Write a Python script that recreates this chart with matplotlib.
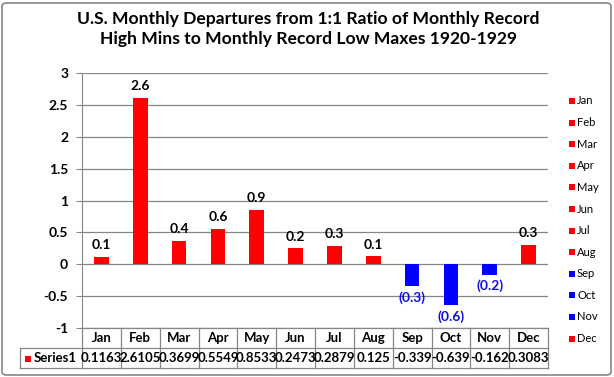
import matplotlib
matplotlib.use("Agg")
import matplotlib.pyplot as plt
from matplotlib.patches import Rectangle, FancyBboxPatch
from matplotlib.lines import Line2D

months = ["Jan", "Feb", "Mar", "Apr", "May", "Jun", "Jul", "Aug", "Sep", "Oct", "Nov", "Dec"]
values = [0.1163, 2.6105, 0.3699, 0.5549, 0.8533, 0.2473, 0.2879, 0.125, -0.339, -0.639, -0.162, 0.3083]
table_text = ["0.1163", "2.6105", "0.3699", "0.5549", "0.8533", "0.2473", "0.2879", "0.125",
              "-0.339", "-0.639", "-0.162", "0.3083"]
yticks = [-1, -0.5, 0, 0.5, 1, 1.5, 2, 2.5, 3]
ytick_labels = ["-1", "-0.5", "0", "0.5", "1", "1.5", "2", "2.5", "3"]

plt.rcParams["font.family"] = ["Lato", "DejaVu Sans"]

W, H = 614, 377
fig = plt.figure(figsize=(W / 100, H / 100), dpi=100)

# figure border
fig.patches.append(FancyBboxPatch((2 / W, 2 / H), (W - 5) / W, (H - 5) / H,
                                  boxstyle="round,pad=0,rounding_size=0.008",
                                  transform=fig.transFigure, fill=False,
                                  edgecolor="#868686", linewidth=1.2))

left, right, top, bottom = 82, 548, 73, 328
ax = fig.add_axes([left / W, 1 - bottom / H, (right - left) / W, (bottom - top) / H])

colors = ["#FF0000" if v >= 0 else "#0000FF" for v in values]
x = list(range(len(months)))
ax.bar(x, values, width=0.38, color=colors, zorder=3)
ax.set_xlim(-0.5, len(months) - 0.5)
ax.set_ylim(-1, 3)
ax.set_yticks(yticks)
ax.set_yticklabels(ytick_labels, fontsize=10, fontweight="bold")
ax.set_xticks([])
ax.grid(axis="y", color="#868686", linewidth=0.9, zorder=0)
for s in ["top", "right", "bottom"]:
    ax.spines[s].set_visible(False)
ax.spines["left"].set_color("#868686")
ax.tick_params(axis="y", length=4, color="#868686", pad=6)

for xi, v in zip(x, values):
    if v >= 0:
        ax.text(xi, v + 0.09, f"{v:.1f}", ha="center", va="bottom", fontsize=10,
                fontweight="bold", color="black")
    else:
        ax.text(xi, v - 0.08, f"({abs(v):.1f})", ha="center", va="top", fontsize=10,
                fontweight="bold", color="#1010E8")

# data table
tl = 20
colw = (right - left) / len(months)
row1, row2, row3 = 328, 348, 368
lc = "#868686"
def fx(px):
    return px / W
def fy(py):
    return 1 - py / H
lines = []
lines.append(((left, right), (row1, row1)))
lines.append(((tl, right), (row2, row2)))
lines.append(((tl, right), (row3, row3)))
lines.append(((tl, tl), (row2, row3)))
for i in range(len(months) + 1):
    xx = left + i * colw
    lines.append(((xx, xx), (row1, row3)))
for xs, ys in lines:
    fig.add_artist(Line2D([fx(xs[0]), fx(xs[1])], [fy(ys[0]), fy(ys[1])],
                          transform=fig.transFigure, color=lc, linewidth=0.9))
for i, (m, t) in enumerate(zip(months, table_text)):
    cx = left + (i + 0.5) * colw
    fig.text(fx(cx), fy((row1 + row2) / 2), m, ha="center", va="center",
             fontsize=9.5, fontweight="bold")
    fig.text(fx(cx), fy((row2 + row3) / 2), t, ha="center", va="center",
             fontsize=9.5, fontweight="bold")
fig.add_artist(Rectangle((fx(25), fy(362)), 6 / W, 6 / H, transform=fig.transFigure,
                         facecolor="#FF0000", edgecolor="none"))
fig.text(fx(34), fy(358), "Series1", ha="left", va="center", fontsize=9.5, fontweight="bold")

# legend
for i, (m, c) in enumerate(zip(months, colors)):
    yy = 101 + i * 21.6
    fig.add_artist(Rectangle((fx(569), fy(yy + 3)), 6 / W, 6 / H, transform=fig.transFigure,
                             facecolor=c, edgecolor="none"))
    fig.text(fx(577), fy(yy), m, ha="left", va="center", fontsize=8)

fig.text(fx(308), fy(29), "U.S. Monthly Departures from 1:1 Ratio of Monthly Record\n"
         "High Mins to Monthly Record Low Maxes 1920-1929",
         ha="center", va="center", fontsize=12.6, fontweight="bold", linespacing=1.3)

fig.savefig("out.png", dpi=100)
